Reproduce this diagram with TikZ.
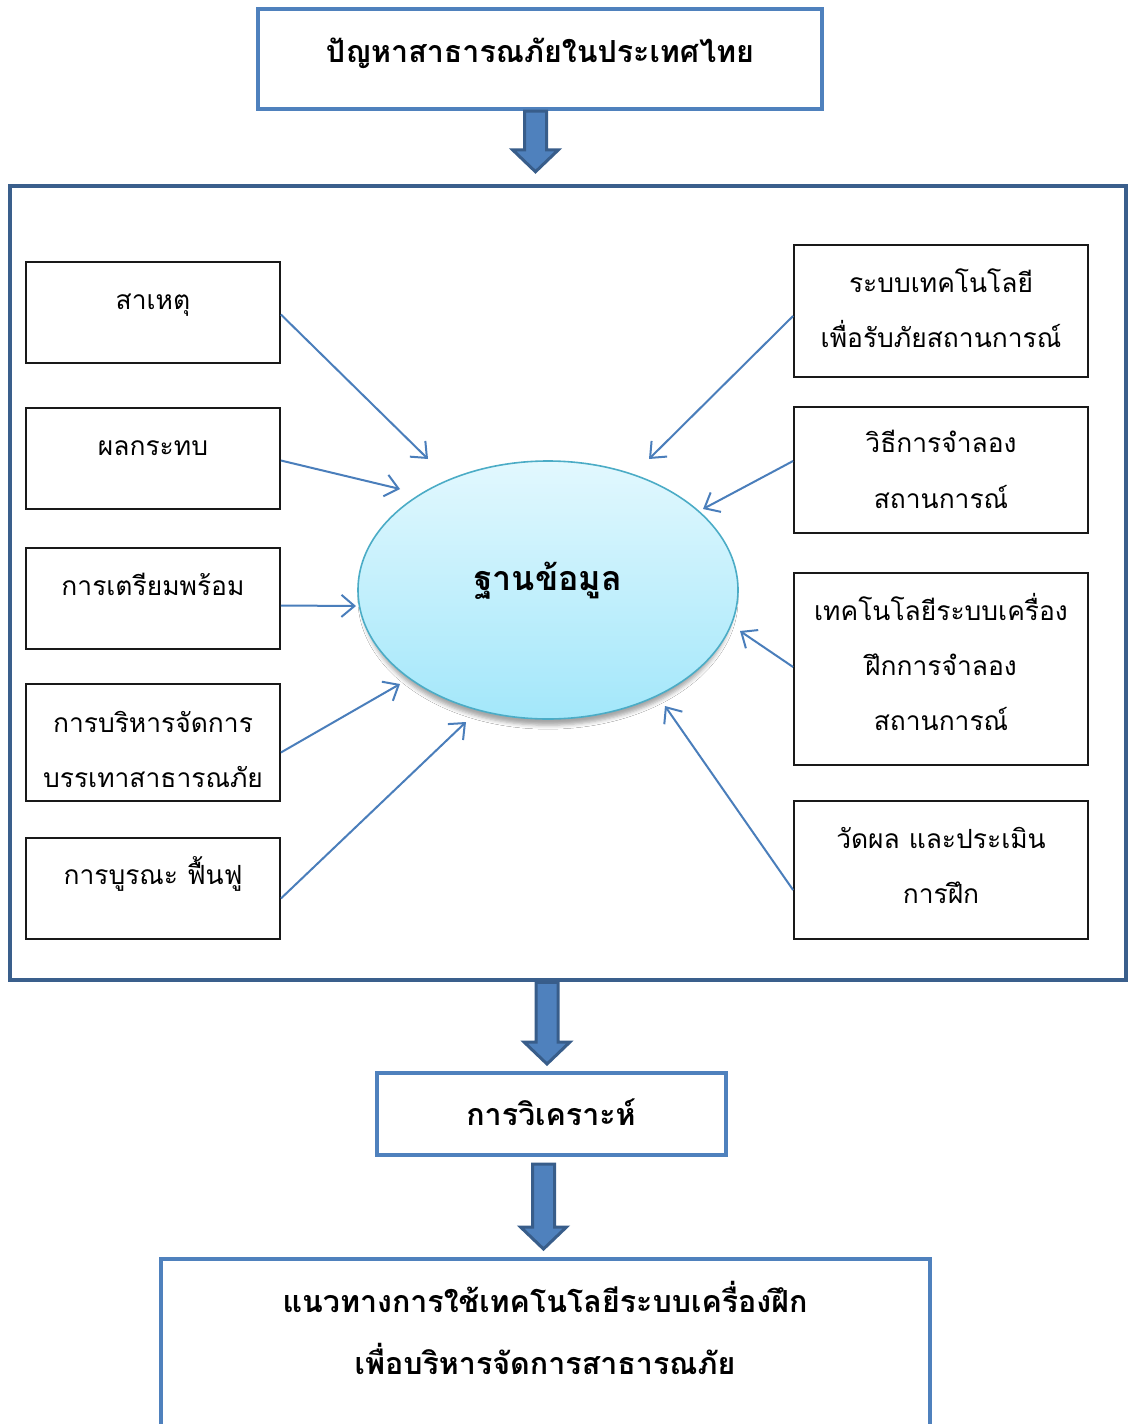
\documentclass[tikz,border=0pt]{standalone}
\usepackage{fontspec}
\newfontfamily\thaifont[Script=Thai]{Loma}
\usetikzlibrary{arrows.meta,calc,shapes.geometric,shadows.blur}

\definecolor{frameblue}{RGB}{79,129,189}
\definecolor{darkblue}{RGB}{56,93,138}
\definecolor{panelblue}{RGB}{58,95,140}
\definecolor{linkblue}{RGB}{74,126,187}
\definecolor{ovaledge}{RGB}{75,172,198}
\definecolor{ovaltop}{RGB}{226,248,254}
\definecolor{ovalbot}{RGB}{163,231,250}

% block arrow pointing down: #1 start point, #2 end point, #3 x position,
% #4 gap below the start point, #5 gap left above the end point
\newcommand{\flowarrow}[5]{%
  \filldraw[blockarrow] let \p1=#1, \p2=#2 in
    ({#3pt-11pt},{\y1-#4pt}) -- ({#3pt+11pt},{\y1-#4pt})
    -- ({#3pt+11pt},{\y2+#5pt+22pt}) -- ({#3pt+23pt},{\y2+#5pt+22pt})
    -- ({#3pt},{\y2+#5pt})
    -- ({#3pt-23pt},{\y2+#5pt+22pt}) -- ({#3pt-11pt},{\y2+#5pt+22pt}) -- cycle;}

\begin{document}
\begin{tikzpicture}[x=1pt,y=-1pt,
  bluebox/.style={draw=frameblue, line width=4pt, fill=white, inner sep=0pt},
  itembox/.style={draw=black!90, line width=1.8pt, fill=white, inner sep=0pt},
  itemtext/.style={font=\thaifont\fontsize{26.4}{30}\selectfont, anchor=base, inner sep=0pt},
  headtext/.style={font=\thaifont\bfseries\fontsize{30.4}{36}\selectfont, anchor=base, inner sep=0pt},
  dbtext/.style={font=\thaifont\bfseries\fontsize{34}{40}\selectfont, anchor=base, inner sep=0pt},
  link/.style={draw=linkblue, line width=2pt, -{Straight Barb[length=13pt,width=22pt]}},
  blockarrow/.style={fill=frameblue, draw=darkblue, line width=3pt, line join=miter}
]
\clip (0,0) rectangle (1128,1424);
\fill[white] (0,0) rectangle (1128,1424);

% frames
\node[bluebox, minimum width=564, minimum height=100] (top) at (540,59) {};
\node[headtext] (toptxt) at (540,62) {ปัญหาสาธารณภัยในประเทศไทย};

\node[draw=panelblue, line width=4.5pt, fill=white, inner sep=0pt,
      minimum width=1116, minimum height=794] (panel) at (568,583) {};

\node[bluebox, minimum width=349, minimum height=82] (analysis) at (551.5,1114) {};
\node[headtext] (analysistxt) at (551,1125) {การวิเคราะห์};

\node[bluebox, minimum width=769, minimum height=181] (final) at (545.5,1349.5) {};
\node[headtext] (finaltxt1) at (545,1312) {แนวทางการใช้เทคโนโลยีระบบเครื่องฝึก};
\node[headtext] (finaltxt2) at (545,1374) {เพื่อบริหารจัดการสาธารณภัย};

% block arrows between the stages
\flowarrow{(top.south)}{(panel.north)}{535.5}{0}{12}
\flowarrow{(panel.south)}{(analysis.north)}{547}{0}{7}
\flowarrow{(analysis.south)}{(final.north)}{543.5}{7}{8}

% central database
\node[ellipse, minimum width=380, minimum height=258, draw=ovaledge, line width=1.6pt,
      top color=ovaltop, bottom color=ovalbot,
      blur shadow={shadow scale=0.98, shadow xshift=0pt, shadow yshift=-9pt,
                   shadow blur radius=4pt, shadow opacity=35}]
      (db) at (548,590) {};
\node[dbtext] (dbtxt) at (548,590) {ฐานข้อมูล};

% left column
\node[itembox, minimum width=254, minimum height=101] (l1) at (153,312.5) {};
\node[itemtext] (l1a) at (153,309) {สาเหตุ};
\node[itembox, minimum width=254, minimum height=101] (l2) at (153,458.5) {};
\node[itemtext] (l2a) at (153,455) {ผลกระทบ};
\node[itembox, minimum width=254, minimum height=101] (l3) at (153,598.5) {};
\node[itemtext] (l3a) at (153,595) {การเตรียมพร้อม};
\node[itembox, minimum width=254, minimum height=117] (l4) at (153,742.5) {};
\node[itemtext] (l4a) at (153,732) {การบริหารจัดการ};
\node[itemtext] (l4b) at (153,787) {บรรเทาสาธารณภัย};
\node[itembox, minimum width=254, minimum height=101] (l5) at (153,888.5) {};
\node[itemtext] (l5a) at (153,884) {การบูรณะ ฟื้นฟู};

% right column
\node[itembox, minimum width=294, minimum height=132] (r1) at (941,311) {};
\node[itemtext] (r1a) at (941,292) {ระบบเทคโนโลยี};
\node[itemtext] (r1b) at (941,347) {เพื่อรับภัยสถานการณ์};
\node[itembox, minimum width=294, minimum height=126] (r2) at (941,470) {};
\node[itemtext] (r2a) at (941,452) {วิธีการจำลอง};
\node[itemtext] (r2b) at (941,508) {สถานการณ์};
\node[itembox, minimum width=294, minimum height=192] (r3) at (941,669) {};
\node[itemtext] (r3a) at (941,620) {เทคโนโลยีระบบเครื่อง};
\node[itemtext] (r3b) at (941,675) {ฝึกการจำลอง};
\node[itemtext] (r3c) at (941,730) {สถานการณ์};
\node[itembox, minimum width=294, minimum height=138] (r4) at (941,870) {};
\node[itemtext] (r4a) at (941,848) {วัดผล และประเมิน};
\node[itemtext] (r4b) at (941,903) {การฝึก};

% free ends of the connectors, short of the oval
\coordinate (t1) at (428,459);
\coordinate (t2) at (400,489);
\coordinate (t3) at (356,606);
\coordinate (t4) at (400,684);
\coordinate (t5) at (466,722);
\coordinate (t6) at (649,459);
\coordinate (t7) at (703,509);
\coordinate (t8) at (740,631);
\coordinate (t9) at (665,706);

\draw[link] ($(l1.east)+(0,2)$) -- (t1);
\draw[link] ($(l2.east)+(0,2)$) -- (t2);
\draw[link] ($(l3.east)+(0,7)$) -- (t3);
\draw[link] ($(l4.east)+(0,10)$) -- (t4);
\draw[link] ($(l5.east)+(0,10)$) -- (t5);
\draw[link] ($(r1.west)+(0,5)$) -- (t6);
\draw[link] ($(r2.west)+(0,-9)$) -- (t7);
\draw[link] ($(r3.west)+(0,-2)$) -- (t8);
\draw[link] ($(r4.west)+(0,20)$) -- (t9);
\end{tikzpicture}
\end{document}
